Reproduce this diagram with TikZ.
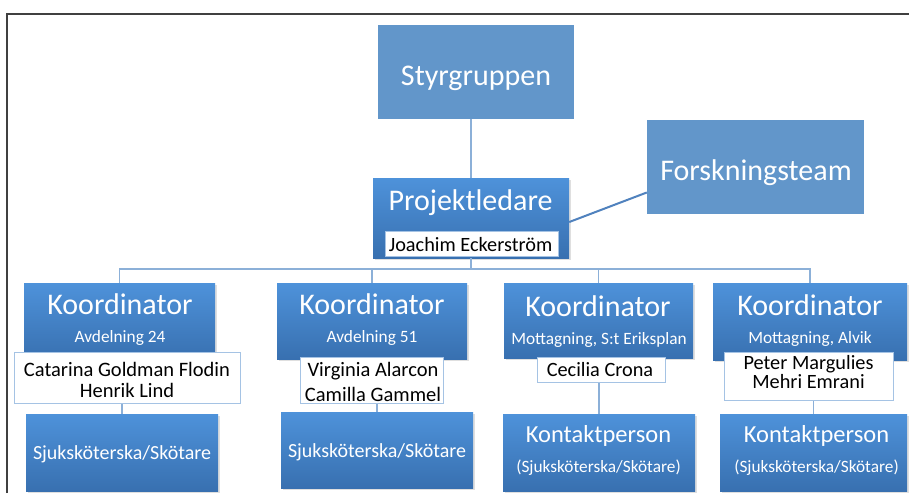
\documentclass[tikz,border=0pt]{standalone}
\usepackage{fontspec}
\setmainfont{Carlito}
\usetikzlibrary{calc,shadows}
\definecolor{boxtop}{RGB}{78,146,218}
\definecolor{boxbot}{RGB}{56,112,176}
\definecolor{flatc}{RGB}{98,150,202}
\definecolor{connc}{RGB}{140,176,216}
\definecolor{nameedge}{RGB}{165,195,228}
\definecolor{framec}{RGB}{64,64,64}
\definecolor{ftline}{RGB}{80,130,190}
\begin{document}
\begin{tikzpicture}[x=1pt,y=-1pt,
  gbox/.style={rectangle, inner sep=0pt, top color=boxtop, bottom color=boxbot, draw=none,
    drop shadow={shadow xshift=1.5pt, shadow yshift=-2pt, opacity=0.25}},
  fbox/.style={rectangle, inner sep=0pt, fill=flatc, draw=none},
  namebox/.style={rectangle, inner sep=0pt, fill=white, draw=nameedge, line width=1pt},
  bigtxt/.style={anchor=base, inner sep=0pt, text=white, font=\fontsize{30}{36}\selectfont},
  midtxt/.style={anchor=base, inner sep=0pt, text=white, font=\fontsize{24.5}{30}\selectfont},
  subtxt/.style={anchor=base, inner sep=0pt, text=white, font=\fontsize{17.3}{20}\selectfont},
  btxt/.style={anchor=base, inner sep=0pt, text=white, font=\fontsize{20}{24}\selectfont},
  nametxt/.style={anchor=base, inner sep=0pt, text=black, align=center},
  connline/.style={draw=connc, line width=1.2pt}]
\useasboundingbox (0,0) rectangle (909,493);
\fill[white] (0,0) rectangle (909,493);
\draw[framec, line width=1.6pt] (7,493) -- (7,14) -- (909,14);

% top boxes
\node[fbox, minimum width=196pt, minimum height=94pt] (sg) at (476,72) {};
\node[bigtxt] (sgt) at (476,85) {Styrgruppen};
\node[fbox, minimum width=217pt, minimum height=94pt] (ft) at (755.5,167) {};
\node[bigtxt] (ftt) at (756,180) {Forskningsteam};

% projektledare
\node[gbox, minimum width=196pt, minimum height=80pt] (pl) at (471,218) {};
\node[bigtxt] (plt) at (470.5,210) {Projektledare};
\node[namebox, minimum width=173pt, minimum height=25pt] (pln) at (471.5,243.5) {};
\node[nametxt, font=\fontsize{20.3}{22}\selectfont] (plnt) at (470.5,251) {Joachim Eckerström};

% connectors top
\draw[connline] (pl.north) -- (pl.north |- sg.south);
\draw[draw=ftline, line width=2pt] ($(pl.north east)!0.55!(pl.south east)$) -- ($(ft.north west)!0.77!(ft.south west)$);
\coordinate (bus) at (471,269);

% coordinators
\node[gbox, minimum width=191pt, minimum height=77pt] (k1) at (119.5,321.5) {};
\node[gbox, minimum width=190pt, minimum height=76pt] (k2) at (372,321) {};
\node[gbox, minimum width=189pt, minimum height=75pt] (k3) at (598.5,320.5) {};
\node[gbox, minimum width=194pt, minimum height=77pt] (k4) at (810,321.5) {};
\node[bigtxt] (k1t) at (120,314) {Koordinator};
\node[bigtxt] (k2t) at (372,314) {Koordinator};
\node[bigtxt] (k3t) at (598,316) {Koordinator};
\node[bigtxt] (k4t) at (810,315) {Koordinator};
\node[subtxt] (k1s) at (120,342) {Avdelning 24};
\node[subtxt] (k2s) at (372,342) {Avdelning 51};
\node[subtxt] (k3s) at (599,344) {Mottagning, S:t Eriksplan};
\node[subtxt] (k4s) at (810,343) {Mottagning, Alvik};

\draw[connline] (pl.south) -- (bus);
\draw[connline] (bus) -| (k1.north);
\draw[connline] (bus) -| (k2.north);
\draw[connline] (bus) -| (k3.north);
\draw[connline] (bus) -| (k4.north);

% bottom boxes
\node[gbox, minimum width=192pt, minimum height=77pt] (b1) at (122,452.5) {};
\node[gbox, minimum width=192pt, minimum height=76pt] (b2) at (377,450) {};
\node[gbox, minimum width=192pt, minimum height=77pt] (b3) at (599,452.5) {};
\node[gbox, minimum width=187pt, minimum height=77pt] (b4) at (813.5,452.5) {};
\node[btxt] (b1t) at (122,459) {Sjuksköterska/Skötare};
\node[btxt] (b2t) at (377,457) {Sjuksköterska/Skötare};
\node[midtxt] (b3t) at (598.5,442) {Kontaktperson};
\node[subtxt] (b3s) at (598.5,472) {(Sjuksköterska/Skötare)};
\node[midtxt] (b4t) at (816.5,442) {Kontaktperson};
\node[subtxt] (b4s) at (816.5,472) {(Sjuksköterska/Skötare)};

% name boxes
\node[namebox, minimum width=226pt, minimum height=51pt] (n1) at (127,377.5) {};
\node[namebox, minimum width=143pt, minimum height=46pt] (n2) at (371.5,380) {};
\node[namebox, minimum width=128pt, minimum height=25pt] (n3) at (601,369.5) {};
\node[namebox, minimum width=169pt, minimum height=48pt] (n4) at (808.5,376) {};
\node[nametxt, font=\fontsize{20.5}{21}\selectfont] (n1t) at (127,397) {Catarina Goldman Flodin\\Henrik Lind};
\node[nametxt, font=\fontsize{20.5}{25}\selectfont] (n2t) at (373,401) {Virginia Alarcon\\Camilla Gammel};
\node[nametxt, font=\fontsize{20.3}{22}\selectfont] (n3t) at (600,376) {Cecilia Crona};
\node[nametxt, font=\fontsize{20.3}{19.5}\selectfont] (n4t) at (808.5,388.5) {Peter Margulies\\Mehri Emrani};

\draw[connline] (b1.north) -- (b1.north |- n1.south);
\draw[connline] (b2.north) -- (b2.north |- n2.south);
\draw[connline] (b3.north) -- (b3.north |- n3.south);
\draw[connline] (b4.north) -- (b4.north |- n4.south);
\end{tikzpicture}
\end{document}
